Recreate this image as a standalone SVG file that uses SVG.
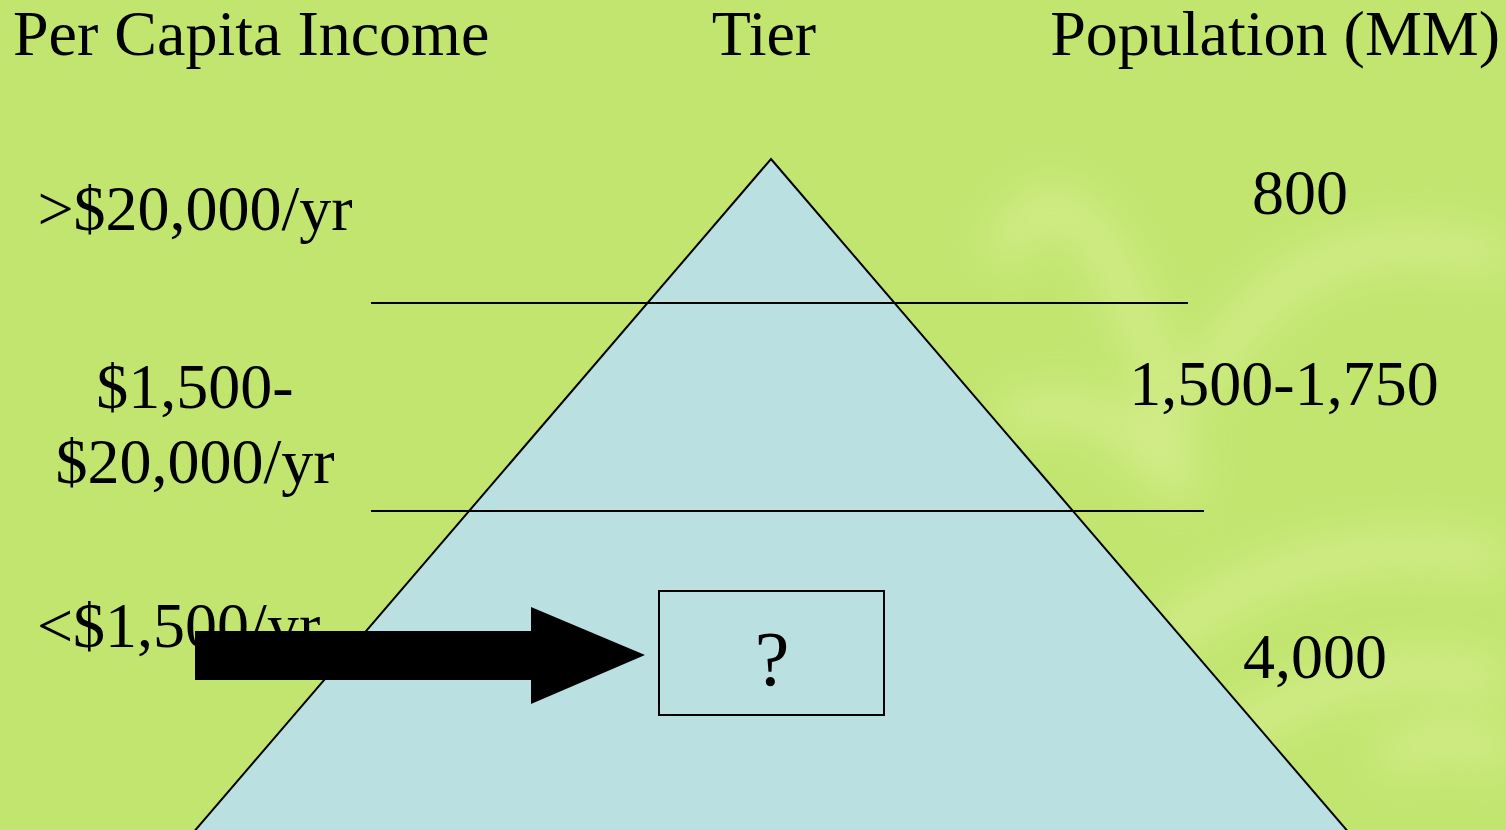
<svg xmlns="http://www.w3.org/2000/svg" width="1506" height="830" viewBox="0 0 1506 830">
<defs>
<style>
text{font-family:"Liberation Serif","Times New Roman",serif;font-size:64px;fill:#000}
.ln{stroke:#000;stroke-width:2;fill:none}
</style>
<filter id="blur" x="-50%" y="-50%" width="200%" height="200%"><feGaussianBlur stdDeviation="22"/></filter>
</defs>
<rect width="1506" height="830" fill="#c1e56f"/>
<g filter="url(#blur)" fill="none" stroke="#d6ee8e" stroke-width="40" opacity="0.85">
<path d="M1000,260 Q1050,150 1110,260 T1180,500"/>
<path d="M1200,390 Q1300,200 1506,260"/>
<path d="M1000,420 Q1100,380 1160,470"/>
<path d="M1150,650 Q1300,520 1506,560"/>
<path d="M1200,760 Q1350,640 1506,680"/>
<path d="M1380,760 Q1460,720 1506,760"/>
</g>
<g id="pyramid">
<polygon points="771,159 1350,834 192,834" fill="#bae0e2" stroke="#000" stroke-width="2"/>
</g>
<g id="dividers">
<line class="ln" x1="371" y1="303" x2="1188" y2="303"/>
<line class="ln" x1="371" y1="511" x2="1204" y2="511"/>
</g>
<g id="headers">
<text x="13" y="55">Per Capita Income</text>
<text x="764" y="55" text-anchor="middle">Tier</text>
<text x="1500" y="55" text-anchor="end">Population (MM)</text>
</g>
<g id="income">
<text x="195" y="230" text-anchor="middle">&gt;$20,000/yr</text>
<text x="195" y="408" text-anchor="middle">$1,500-</text>
<text x="195" y="483" text-anchor="middle">$20,000/yr</text>
<text x="37" y="647">&lt;$1,500/yr</text>
</g>
<g id="population">
<text x="1300" y="214" text-anchor="middle">800</text>
<text x="1284" y="405" text-anchor="middle">1,500-1,750</text>
<text x="1315" y="678" text-anchor="middle">4,000</text>
</g>
<g id="box">
<rect x="659" y="591" width="225" height="124" fill="none" stroke="#000" stroke-width="2"/>
<text x="772" y="685" text-anchor="middle" style="font-size:78px">?</text>
</g>
<g id="connectors">
<polygon points="195,631 531,631 531,607 645,655 531,704 531,680 195,680" fill="#000"/>
</g>
</svg>
